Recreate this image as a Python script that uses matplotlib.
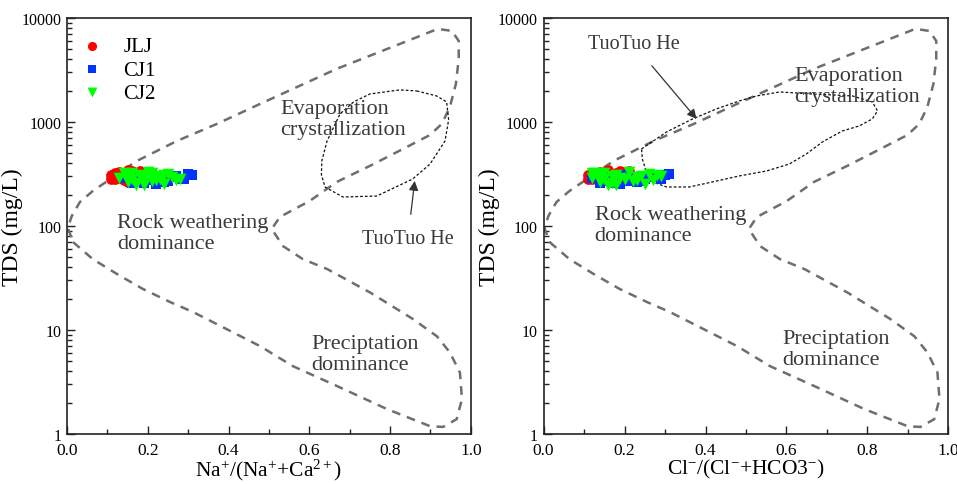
import matplotlib
matplotlib.use("Agg")
import matplotlib.pyplot as plt
from matplotlib.ticker import LogLocator, MultipleLocator, FixedLocator, NullFormatter

plt.rcParams['font.family'] = ['Liberation Serif', 'DejaVu Serif']
plt.rcParams['mathtext.fontset'] = 'custom'
plt.rcParams['mathtext.rm'] = 'Liberation Serif'
plt.rcParams['mathtext.it'] = 'Liberation Serif:italic'
plt.rcParams['mathtext.bf'] = 'Liberation Serif:bold'

# ---------------- data ----------------
series_names = ["JLJ", "CJ1", "CJ2"]
series_colors = ["#ff0000", "#0033ff", "#00ff00"]
series_markers = ["o", "s", "v"]

jlj_tds = [310, 285, 330, 300, 275, 345, 320, 290, 265, 305, 335, 280, 315, 295, 270, 325, 300, 285, 340, 310]
jlj_na = [0.11, 0.12, 0.13, 0.12, 0.14, 0.15, 0.16, 0.13, 0.15, 0.17, 0.18, 0.17, 0.14, 0.19, 0.16, 0.12, 0.18, 0.11, 0.16, 0.19]
jlj_cl = [0.11, 0.12, 0.14, 0.13, 0.15, 0.16, 0.18, 0.12, 0.17, 0.20, 0.19, 0.21, 0.14, 0.22, 0.16, 0.13, 0.19, 0.11, 0.21, 0.17]

cj1_tds = [300, 280, 260, 310, 290, 270, 255, 305, 285, 265, 315, 295, 275, 300, 260, 285, 310, 270, 290, 305]
cj1_na = [0.15, 0.17, 0.19, 0.21, 0.23, 0.25, 0.22, 0.27, 0.29, 0.24, 0.30, 0.26, 0.20, 0.18, 0.16, 0.28, 0.31, 0.23, 0.14, 0.25]
cj1_cl = [0.13, 0.15, 0.18, 0.20, 0.22, 0.24, 0.19, 0.26, 0.29, 0.23, 0.31, 0.27, 0.17, 0.16, 0.14, 0.25, 0.30, 0.21, 0.12, 0.28]

cj2_tds = [320, 300, 280, 260, 310, 290, 245, 330, 270, 305, 285, 255, 315, 295, 275, 325, 300, 265, 310, 285, 250, 320, 290, 275, 305]
cj2_na = [0.14, 0.15, 0.16, 0.17, 0.18, 0.19, 0.17, 0.20, 0.21, 0.22, 0.23, 0.24, 0.25, 0.26, 0.27, 0.21, 0.18, 0.15, 0.24, 0.28, 0.19, 0.16, 0.13, 0.22, 0.20]
cj2_cl = [0.12, 0.14, 0.15, 0.17, 0.18, 0.19, 0.16, 0.21, 0.22, 0.24, 0.20, 0.25, 0.26, 0.23, 0.27, 0.13, 0.17, 0.14, 0.28, 0.20, 0.18, 0.15, 0.12, 0.23, 0.29]

# Gibbs boundary (ratio, TDS)
gibbs_x = [0.015, 0.064, 0.124, 0.188, 0.255, 0.312, 0.478, 0.559, 0.668, 0.792, 0.899, 0.931,
           0.965, 0.978, 0.973, 0.948, 0.916, 0.856, 0.750, 0.644, 0.584, 0.535, 0.507, 0.527,
           0.601, 0.668, 0.750, 0.832, 0.899, 0.928, 0.948, 0.963, 0.970, 0.970, 0.953, 0.918,
           0.824, 0.668, 0.478, 0.371, 0.272, 0.173, 0.064, 0.032, 0.012, 0.002, 0.015]
gibbs_tds = [70, 48, 34.5, 24.8, 18.6, 14.9, 7.0, 4.5, 2.9, 1.74, 1.19, 1.17,
             1.39, 2.17, 3.9, 6.1, 8.7, 12.8, 23, 38.6, 48, 64, 93.5, 122,
             174, 265, 378, 550, 750, 957, 1390, 2320, 4040, 6010, 7500, 7840,
             5620, 3240, 1490, 957, 656, 422, 217, 170, 125, 96, 70]

# TuoTuo He envelope, left panel
tth_na_x = [0.866, 0.915, 0.940, 0.945, 0.936, 0.899, 0.856, 0.767, 0.683, 0.639, 0.630, 0.631,
            0.644, 0.676, 0.710, 0.750, 0.824, 0.866]
tth_na_tds = [1986, 1780, 1560, 1050, 656, 394, 283, 194, 190, 237, 310, 422,
              656, 1194, 1560, 1858, 2032, 1986]

# TuoTuo He envelope, right panel
tth_cl_x = [0.242, 0.304, 0.368, 0.427, 0.484, 0.526, 0.583, 0.664, 0.763, 0.812, 0.825, 0.812,
            0.780, 0.738, 0.689, 0.649, 0.607, 0.551, 0.484, 0.417, 0.360, 0.304, 0.269, 0.254,
            0.244, 0.242]
tth_cl_tds = [550, 802, 1069, 1334, 1594, 1778, 1942, 1858, 1778, 1557, 1276, 1069,
              916, 819, 643, 492, 394, 338, 303, 265, 237, 237, 265, 330, 441, 550]

xticks = [0.0, 0.2, 0.4, 0.6, 0.8, 1.0]
xtick_labels = ["0.0", "0.2", "0.4", "0.6", "0.8", "1.0"]
yticks = [1, 10, 100, 1000, 10000]
ytick_labels = ["1", "10", "100", "1000", "10000"]

# ---------------- figure ----------------
fig = plt.figure(figsize=(9.57, 4.85), dpi=100)
ax1 = fig.add_axes([0.070, 0.103, 0.422, 0.858])
ax2 = fig.add_axes([0.568, 0.103, 0.423, 0.858])

dash_col = "#6e6e6e"

def style_axes(ax, xlabel):
    ax.set_xlim(0, 1)
    ax.set_yscale('log')
    ax.set_ylim(1, 10000)
    ax.xaxis.set_major_locator(FixedLocator(xticks))
    ax.set_xticklabels(xtick_labels, fontsize=12.5)
    ax.xaxis.set_minor_locator(MultipleLocator(0.1))
    ax.yaxis.set_major_locator(FixedLocator(yticks))
    ax.set_yticklabels(ytick_labels, fontsize=11.5)
    ax.yaxis.set_minor_locator(LogLocator(base=10, subs=range(2, 10)))
    ax.yaxis.set_minor_formatter(NullFormatter())
    ax.tick_params(which='both', direction='in', top=False, right=False, width=1.0, color='#222222')
    ax.tick_params(which='major', length=6)
    ax.tick_params(axis='x', which='major', pad=6)
    ax.tick_params(axis='y', which='major', pad=4)
    ax.tick_params(which='minor', length=3.5)
    for s in ax.spines.values():
        s.set_linewidth(1.2)
        s.set_color('#222222')
    ax.set_ylabel("TDS (mg/L)", fontsize=17)
    ax.yaxis.set_label_coords(-0.108, 0.5)
    ax.set_xlabel(xlabel, fontsize=15.5, labelpad=-1)

style_axes(ax1, r"Na$^{+}$/(Na$^{+}$+Ca$^{2+}$)")
style_axes(ax2, r"Cl$^{-}$/(Cl$^{-}$+HCO3$^{-}$)")

for ax, tx, ty in [(ax1, tth_na_x, tth_na_tds), (ax2, tth_cl_x, tth_cl_tds)]:
    ax.plot(gibbs_x, gibbs_tds, color=dash_col, lw=1.8, dashes=(3.5, 2.8), zorder=2)
    ax.plot(tx, ty, color='#111111', lw=0.9, dashes=(2.2, 1.6), zorder=2)

left_sets = [(jlj_na, jlj_tds), (cj1_na, cj1_tds), (cj2_na, cj2_tds)]
right_sets = [(jlj_cl, jlj_tds), (cj1_cl, cj1_tds), (cj2_cl, cj2_tds)]
sizes = [60, 48, 70]
for i, name in enumerate(series_names):
    ax1.scatter(left_sets[i][0], left_sets[i][1], s=sizes[i], c=series_colors[i],
                marker=series_markers[i], linewidths=0, label=name, zorder=3)
    ax2.scatter(right_sets[i][0], right_sets[i][1], s=sizes[i], c=series_colors[i],
                marker=series_markers[i], linewidths=0, label=name, zorder=3)

leg = ax1.legend(loc='upper left', bbox_to_anchor=(0.0, 0.985), frameon=False, fontsize=15,
                 handlelength=1.2, handletextpad=0.9, labelspacing=0.18, borderaxespad=0.2,
                 markerscale=0.85)

tcol = '#3a3a3a'
fs = 16
ls = 1.12
# left panel texts
ax1.text(0.528, 1070, "Evaporation\ncrystallization", fontsize=fs, color=tcol, ha='left', va='center', linespacing=ls)
ax1.text(0.124, 86, "Rock weathering\ndominance", fontsize=fs, color=tcol, ha='left', va='center', linespacing=ls)
ax1.text(0.604, 5.9, "Preciptation\ndominance", fontsize=fs, color=tcol, ha='left', va='center', linespacing=ls)
ax1.annotate("TuoTuo He", xy=(0.861, 271), xytext=(0.844, 75), fontsize=14.5, color=tcol,
             ha='center', va='center',
             arrowprops=dict(arrowstyle='-|>', color='#333333', lw=0.9, shrinkA=9, shrinkB=0,
                             mutation_scale=14))
# right panel texts
ax2.text(0.62, 2220, "Evaporation\ncrystallization", fontsize=fs, color=tcol, ha='left', va='center', linespacing=ls)
ax2.text(0.126, 102, "Rock weathering\ndominance", fontsize=fs, color=tcol, ha='left', va='center', linespacing=ls)
ax2.text(0.59, 6.6, "Preciptation\ndominance", fontsize=fs, color=tcol, ha='left', va='center', linespacing=ls)
ax2.annotate("TuoTuo He", xy=(0.378, 1070), xytext=(0.222, 5620), fontsize=14.5, color=tcol,
             ha='center', va='center',
             arrowprops=dict(arrowstyle='-|>', color='#333333', lw=0.9, shrinkA=9, shrinkB=0,
                             mutation_scale=14))

fig.savefig("out.png", dpi=100)
